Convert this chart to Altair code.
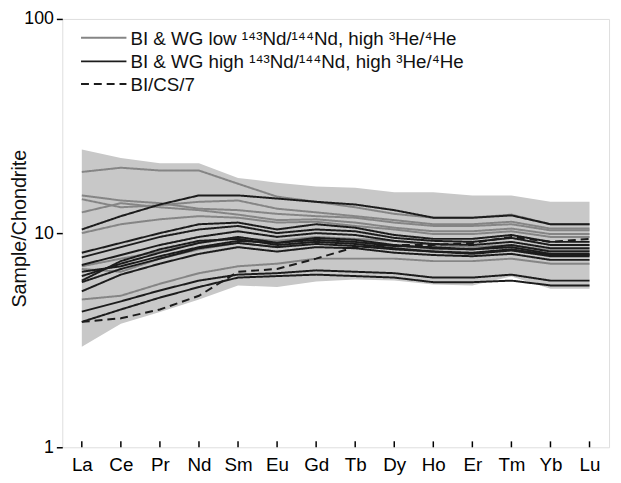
import altair as alt
import pandas as pd

elements = ["La", "Ce", "Pr", "Nd", "Sm", "Eu", "Gd", "Tb", "Dy", "Ho", "Er", "Tm", "Yb", "Lu"]

band_high = [24.6, 22.4, 21.2, 21.2, 18.1, 17.2, 16.5, 16.3, 15.5, 15.5, 15.0, 15.0, 14.0, 14.0]
band_low = [2.95, 3.77, 4.28, 4.9, 5.7, 5.6, 5.95, 6.07, 6.0, 5.76, 5.7, 6.27, 5.5, 5.5]

low_nd = {
    "G1": [19.3, 20.2, 19.6, 19.6, 17.0, 14.8, 14.0, 13.2, 12.3, 11.8, 11.8, 12.2, 11.0, 11.0],
    "G2": [15.0, 14.2, 13.8, 13.0, 12.8, 12.3, 12.0, 11.8, 11.2, 10.8, 10.8, 11.0, 10.3, 10.3],
    "G3": [14.4, 13.2, 13.5, 14.0, 14.2, 13.0, 12.5, 12.0, 11.5, 11.0, 11.0, 11.3, 10.5, 10.5],
    "G4": [12.5, 13.8, 13.2, 12.8, 12.2, 11.5, 11.6, 11.2, 10.6, 10.2, 10.2, 10.5, 9.9, 9.9],
    "G5": [10.0, 11.0, 11.6, 12.0, 11.8, 11.2, 11.3, 10.8, 10.4, 9.9, 9.9, 10.2, 9.6, 9.6],
    "G6": [7.0, 7.6, 8.2, 9.0, 9.5, 9.2, 9.6, 9.4, 9.2, 8.8, 8.6, 8.8, 8.3, 8.3],
    "G7": [4.9, 5.1, 5.8, 6.5, 7.0, 7.2, 7.6, 7.6, 7.6, 7.4, 7.4, 7.6, 7.2, 7.2],
    "G8": [6.8, 6.6, 7.6, 8.4, 9.0, 8.6, 9.2, 9.0, 8.8, 8.4, 8.4, 8.6, 8.0, 8.0],
}

high_nd = {
    "B1": [10.4, 12.0, 13.6, 15.0, 15.0, 14.5, 14.0, 13.6, 12.8, 11.8, 11.8, 12.1, 11.0, 11.0],
    "B2": [8.1, 9.0, 10.0, 11.0, 11.2, 10.4, 11.0, 10.6, 9.8, 9.4, 9.4, 9.8, 9.1, 9.1],
    "B3": [7.7, 8.6, 9.6, 10.4, 10.8, 10.0, 10.4, 10.2, 9.5, 9.2, 9.1, 9.5, 8.8, 8.8],
    "B4": [7.1, 7.9, 8.8, 9.6, 10.2, 9.6, 10.0, 9.8, 9.2, 8.9, 8.8, 9.1, 8.5, 8.5],
    "B5": [6.3, 7.2, 8.1, 9.0, 9.6, 9.0, 9.5, 9.3, 8.8, 8.5, 8.4, 8.8, 8.2, 8.2],
    "B6": [6.0, 7.4, 8.4, 9.2, 9.4, 8.8, 9.1, 8.9, 8.5, 8.2, 8.1, 8.4, 7.9, 7.9],
    "B7": [5.9, 6.8, 7.6, 8.5, 9.0, 8.6, 8.9, 8.7, 8.4, 8.2, 8.0, 8.3, 7.8, 7.8],
    "B8": [5.35, 6.4, 7.2, 8.0, 8.6, 8.2, 8.6, 8.5, 8.1, 7.9, 7.8, 8.0, 7.5, 7.5],
    "B9": [6.6, 7.0, 7.8, 8.6, 9.2, 9.0, 9.3, 9.1, 8.7, 8.6, 8.4, 8.6, 8.0, 8.0],
    "B10": [4.3, 4.8, 5.4, 6.0, 6.4, 6.5, 6.7, 6.6, 6.5, 6.2, 6.2, 6.4, 6.0, 6.0],
    "B11": [3.85, 4.4, 5.0, 5.6, 6.2, 6.3, 6.4, 6.3, 6.2, 5.9, 5.9, 6.0, 5.7, 5.7],
}

bics7 = [3.85, 4.0, 4.4, 5.1, 6.6, 6.8, 7.6, 8.6, 8.8, 8.8, 9.0, 9.6, 9.1, 9.4]

legend_labels = [
    "BI & WG low ¹⁴³Nd/¹⁴⁴Nd, high ³He/⁴He",
    "BI & WG high ¹⁴³Nd/¹⁴⁴Nd, high ³He/⁴He",
    "BI/CS/7",
]

rows = []
for name, vals in low_nd.items():
    for e, v in zip(elements, vals):
        rows.append({"element": e, "value": v, "sample": name, "group": "low"})
for name, vals in high_nd.items():
    for e, v in zip(elements, vals):
        rows.append({"element": e, "value": v, "sample": name, "group": "high"})
for e, v in zip(elements, bics7):
    rows.append({"element": e, "value": v, "sample": "BI/CS/7", "group": "dash"})
df = pd.DataFrame(rows)

band_df = pd.DataFrame({"element": elements, "lo": band_low, "hi": band_high})
one = pd.DataFrame({"k": [0]})

FONT = "Liberation Sans"
W, H = 554, 434

xenc = alt.X(
    "element:O",
    sort=elements,
    scale=alt.Scale(type="point", padding=0.5),
    axis=alt.Axis(title=None, labelFontSize=19, labelPadding=9, ticks=False,
                  domain=False, labelAngle=0, labelColor="black", labelFont=FONT),
)
yscale = alt.Scale(type="log", domain=[1, 100])

band = alt.Chart(band_df).mark_area(color="#c8c8c8", opacity=1).encode(
    x=xenc,
    y=alt.Y("lo:Q", scale=yscale,
            axis=alt.Axis(title="Sample/Chondrite", values=[1, 10, 100], format="d",
                          labelFontSize=18, titleFontSize=20, titleFontWeight="normal",
                          tickSize=6, tickWidth=1.5, tickColor="black", labelPadding=3,
                          domain=False, grid=False, labelColor="black", titleColor="#111111",
                          titleAngle=-90, titleX=-43, titleY=H / 2 - 5, titleAlign="center",
                          titleBaseline="middle",
                          labelFont=FONT, titleFont=FONT)),
    y2="hi:Q",
)

lines = alt.Chart(df).mark_line(strokeWidth=2).encode(
    x=alt.X("element:O", sort=elements),
    y=alt.Y("value:Q", scale=yscale),
    detail="sample:N",
    color=alt.Color("group:N", scale=alt.Scale(domain=["low", "high", "dash"],
                                                range=["#858585", "#1c1c1c", "#1c1c1c"]),
                    legend=None),
    strokeDash=alt.StrokeDash("group:N", scale=alt.Scale(domain=["low", "high", "dash"],
                                                         range=[[1, 0], [1, 0], [8, 5]]),
                              legend=None),
    order=alt.Order("ord:Q"),
).transform_calculate(
    ord="datum.group == 'low' ? 0 : (datum.group == 'high' ? 1 : 2)"
)

ticks = alt.Chart(band_df).mark_rule(color="black", strokeWidth=1.5).encode(
    x=alt.X("element:O", sort=elements),
    y=alt.value(H),
    y2=alt.value(H - 6),
)

leg_y = [19, 43, 66]
leg_colors = ["#858585", "#1c1c1c", "#1c1c1c"]
leg_dash = [[1, 0], [1, 0], [8, 5]]
legend_layers = []
for i in range(3):
    legend_layers.append(
        alt.Chart(one).mark_rule(color=leg_colors[i], strokeWidth=2, strokeDash=leg_dash[i]).encode(
            x=alt.value(19), x2=alt.value(65), y=alt.value(leg_y[i])
        )
    )
    legend_layers.append(
        alt.Chart(one).mark_text(align="left", baseline="middle", fontSize=19, font=FONT,
                                 color="#111111").encode(
            x=alt.value(69), y=alt.value(leg_y[i] + 1), text=alt.value(legend_labels[i])
        )
    )

chart = alt.layer(band, lines, ticks, *legend_layers).properties(
    width=W, height=H,
    autosize=alt.AutoSizeParams(type="none"),
    padding={"left": 55, "top": 8, "right": 4, "bottom": 25},
).configure_view(stroke="black", strokeWidth=2).configure(background="white")

chart.save("out.html", embed_options={"renderer": "svg", "actions": False})
